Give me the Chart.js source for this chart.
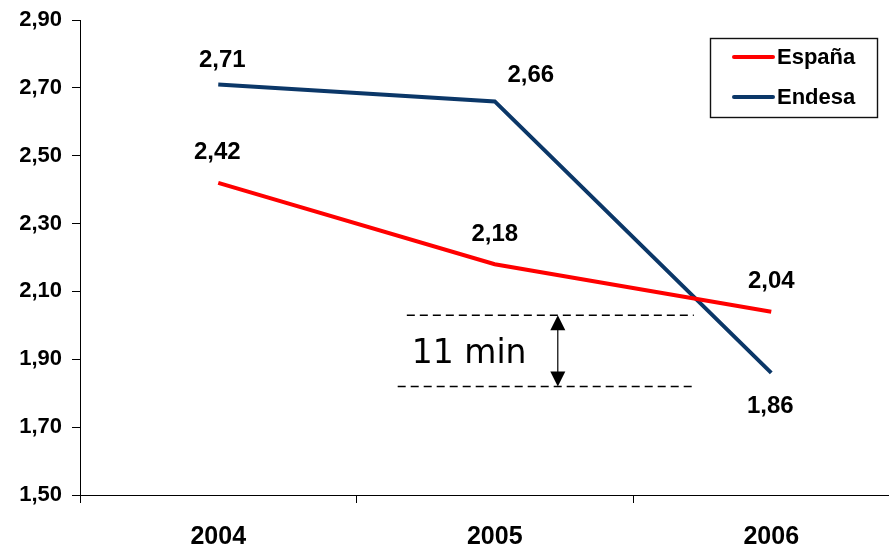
<!DOCTYPE html>
<html>
<head>
<meta charset="utf-8">
<script src="https://cdn.jsdelivr.net/npm/chart.js@4"></script>
<style>
  html, body { margin: 0; padding: 0; background: #fff; overflow: hidden; }
  #wrap { width: 930px; height: 546px; position: relative; }
</style>
</head>
<body>
<div id="wrap"><canvas id="c"></canvas></div>
<script>
// ---- data ----
const categories = ['2004', '2005', '2006'];
const espana = [2.42, 2.18, 2.04];
const endesa = [2.71, 2.66, 1.86];
const yTicks = { min: 1.50, max: 2.90, step: 0.20 };
const gapTop = 2.03;     // upper dashed reference
const gapBottom = 1.82;  // lower dashed reference
const gapLabel = '11 min';

const fmt = v => v.toFixed(2).replace('.', ',');

const labelsPlugin = {
  id: 'valueLabels',
  afterDatasetsDraw(chart) {
    const ctx = chart.ctx;
    ctx.save();
    ctx.font = 'bold 24px "Liberation Sans", Arial, sans-serif';
    ctx.fillStyle = '#000';
    ctx.textAlign = 'center';
    ctx.textBaseline = 'middle';
    chart.data.datasets.forEach((ds, i) => {
      const meta = chart.getDatasetMeta(i);
      meta.data.forEach((pt, j) => {
        const dx = ds.labelDx[j], dy = ds.labelDy[j];
        ctx.fillText(fmt(ds.data[j]), pt.x + dx, pt.y + dy);
      });
    });
    ctx.restore();
  }
};

const annotPlugin = {
  id: 'gapAnnot',
  afterDatasetsDraw(chart) {
    const ctx = chart.ctx;
    const xs = chart.scales.x, ys = chart.scales.y;
    const cx = xs.getPixelForValue(1);
    const w = xs.getPixelForValue(1) - xs.getPixelForValue(0);
    const yT = ys.getPixelForValue(gapTop);
    const yB = ys.getPixelForValue(gapBottom);
    ctx.save();
    ctx.strokeStyle = '#000';
    ctx.lineWidth = 1.6;
    ctx.setLineDash([8, 5]);
    ctx.beginPath();
    ctx.moveTo(cx - 0.318 * w, yT); ctx.lineTo(cx + 0.72 * w, yT);
    ctx.moveTo(cx - 0.351 * w, yB); ctx.lineTo(cx + 0.72 * w, yB);
    ctx.stroke();
    ctx.setLineDash([]);
    // double arrow
    const ax = cx + 0.228 * w;
    ctx.lineWidth = 1.2;
    ctx.beginPath();
    ctx.moveTo(ax, yT + 12); ctx.lineTo(ax, yB - 12);
    ctx.stroke();
    ctx.fillStyle = '#000';
    ctx.beginPath();
    ctx.moveTo(ax, yT); ctx.lineTo(ax - 7.5, yT + 15); ctx.lineTo(ax + 7.5, yT + 15); ctx.closePath();
    ctx.fill();
    ctx.beginPath();
    ctx.moveTo(ax, yB); ctx.lineTo(ax - 7.5, yB - 15); ctx.lineTo(ax + 7.5, yB - 15); ctx.closePath();
    ctx.fill();
    // label
    ctx.font = '33px "DejaVu Sans", Verdana, sans-serif';
    ctx.textAlign = 'left';
    ctx.textBaseline = 'alphabetic';
    ctx.fillText(gapLabel, cx - 0.300 * w, (yT + yB) / 2 + 12);
    ctx.restore();
  }
};

const legendPlugin = {
  id: 'boxLegend',
  afterDraw(chart) {
    const ctx = chart.ctx;
    ctx.save();
    const bx = 710.5, by = 38.5, bw = 167, bh = 79;
    ctx.strokeStyle = '#111';
    ctx.lineWidth = 1.4;
    ctx.strokeRect(bx, by, bw, bh);
    ctx.font = 'bold 22px "Liberation Sans", Arial, sans-serif';
    ctx.textBaseline = 'middle';
    ctx.textAlign = 'left';
    chart.data.datasets.forEach((ds, i) => {
      const y = 57 + i * 40;
      ctx.strokeStyle = ds.borderColor;
      ctx.lineWidth = 4;
      ctx.lineCap = 'round';
      ctx.beginPath();
      ctx.moveTo(734, y); ctx.lineTo(773, y);
      ctx.stroke();
      ctx.fillStyle = '#000';
      ctx.fillText(ds.label, 777, y + 1);
    });
    ctx.restore();
  }
};

new Chart(document.getElementById('c'), {
  type: 'line',
  data: {
    labels: categories,
    datasets: [
      {
        label: 'España', data: espana,
        borderColor: '#ff0000', backgroundColor: '#ff0000',
        borderWidth: 4, pointRadius: 0, tension: 0,
        labelDx: [-1, 0, 0], labelDy: [-30, -30, -30]
      },
      {
        label: 'Endesa', data: endesa,
        borderColor: '#0b3768', backgroundColor: '#0b3768',
        borderWidth: 4, pointRadius: 0, tension: 0,
        labelDx: [4, 36, -1], labelDy: [-24, -26, 34]
      }
    ]
  },
  options: {
    responsive: true,
    maintainAspectRatio: false,
    animation: false,
    layout: { padding: { top: 20, right: 20.5, left: 0, bottom: 0 } },
    plugins: { legend: { display: false }, tooltip: { enabled: false } },
    scales: {
      x: {
        offset: true,
        border: { display: true, color: '#000', width: 1 },
        grid: { drawOnChartArea: false, offset: true, tickLength: 8, color: '#000' },
        ticks: { color: '#000', padding: 19, font: { family: '"Liberation Sans", Arial, sans-serif', size: 25, weight: 'bold' } },
        afterFit(axis) { axis.height = 51; }
      },
      y: {
        min: yTicks.min, max: yTicks.max,
        border: { display: true, color: '#000', width: 1 },
        grid: { drawOnChartArea: false, tickLength: 8, color: '#000' },
        ticks: {
          stepSize: yTicks.step, color: '#000', padding: 10,
          font: { family: '"Liberation Sans", Arial, sans-serif', size: 22, weight: 'bold' },
          callback: v => fmt(v)
        },
        afterFit(axis) { axis.width = 80; axis.paddingTop = 0; axis.paddingBottom = 0; }
      }
    }
  },
  plugins: [labelsPlugin, annotPlugin, legendPlugin]
});
</script>
</body>
</html>
